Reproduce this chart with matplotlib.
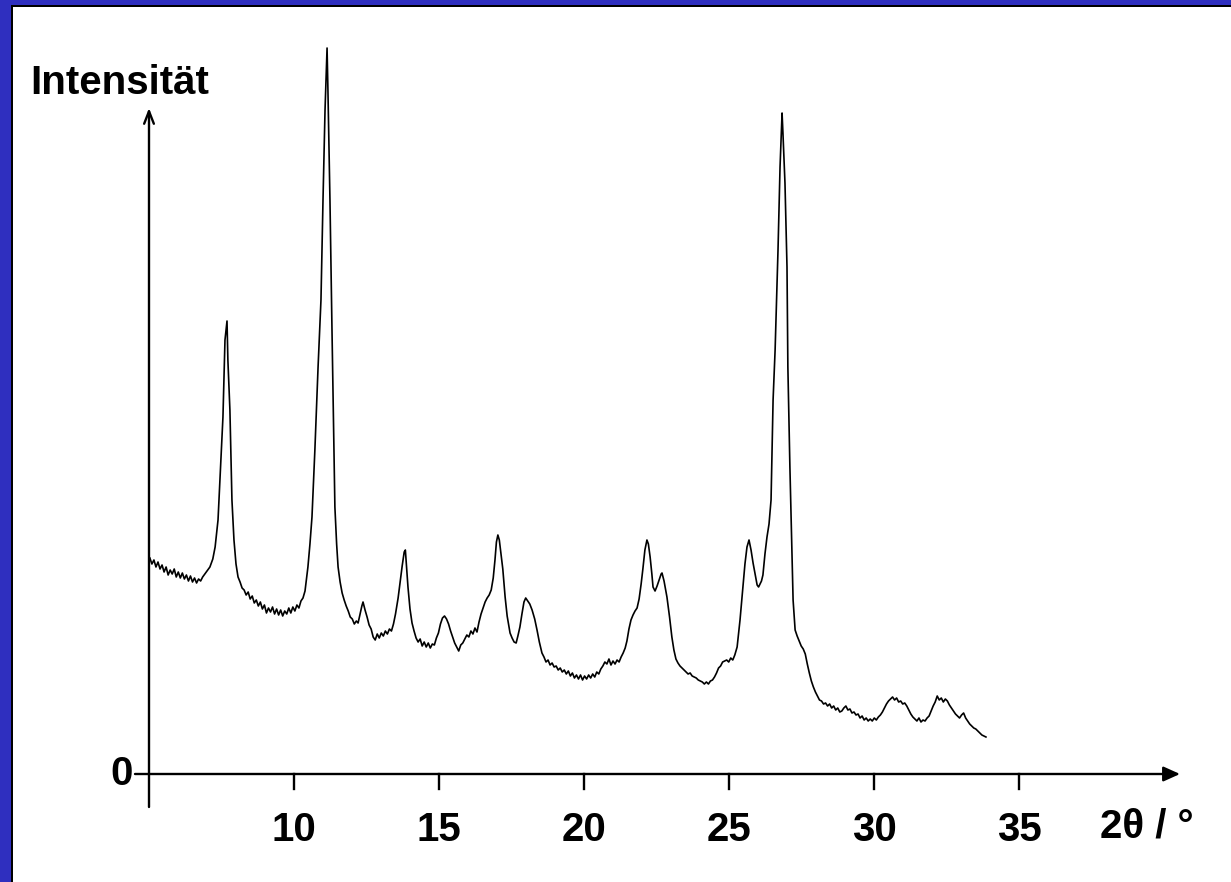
import matplotlib
matplotlib.use("Agg")
import matplotlib.pyplot as plt
from matplotlib.patches import Rectangle

# ---- XRD trace: (2theta in deg, intensity in a.u.) ----
seg_5_10 = [
    (5.03, 216), (5.10, 210), (5.17, 214), (5.24, 207), (5.31, 212), (5.38, 205),
    (5.45, 209), (5.52, 202), (5.59, 207), (5.66, 199), (5.73, 204), (5.80, 200),
    (5.87, 205), (5.94, 197), (6.01, 202), (6.08, 196), (6.15, 201), (6.22, 195),
    (6.29, 199), (6.36, 193), (6.43, 198), (6.50, 192), (6.57, 196), (6.64, 191),
    (6.71, 195), (6.78, 193), (6.85, 197), (6.95, 201), (7.10, 207), (7.20, 215),
    (7.28, 227), (7.38, 254), (7.48, 314), (7.55, 357), (7.62, 434), (7.69, 453),
    (7.72, 414), (7.79, 364), (7.86, 274), (7.93, 234), (8.00, 210), (8.07, 197),
    (8.14, 192), (8.21, 186), (8.28, 184), (8.35, 179), (8.42, 182), (8.49, 175),
    (8.56, 178), (8.63, 171), (8.70, 174), (8.77, 168), (8.84, 172), (8.91, 165),
    (8.98, 169), (9.05, 161), (9.12, 166), (9.19, 162), (9.26, 167), (9.33, 160),
    (9.40, 165), (9.47, 159), (9.54, 164), (9.61, 158), (9.68, 163), (9.75, 160),
    (9.82, 166), (9.89, 161), (9.96, 167),
]
seg_10_15 = [
    (10.03, 163), (10.10, 169), (10.17, 166), (10.24, 173), (10.31, 176), (10.38, 183),
    (10.48, 207), (10.55, 230), (10.62, 257), (10.72, 324), (10.83, 407), (10.93, 474),
    (11.00, 574), (11.07, 664), (11.14, 726), (11.17, 684), (11.24, 574), (11.31, 444),
    (11.38, 324), (11.41, 267), (11.47, 230), (11.52, 207), (11.59, 192), (11.66, 181),
    (11.73, 174), (11.80, 168), (11.87, 163), (11.94, 157), (12.01, 155), (12.08, 150),
    (12.15, 153), (12.21, 151), (12.28, 160), (12.34, 168), (12.38, 172), (12.45, 164),
    (12.52, 157), (12.59, 149), (12.66, 145), (12.73, 137), (12.80, 134), (12.87, 140),
    (12.94, 136), (13.01, 141), (13.08, 138), (13.15, 143), (13.22, 140), (13.29, 145),
    (13.36, 143), (13.43, 150), (13.50, 160), (13.59, 176), (13.66, 192), (13.73, 208),
    (13.80, 222), (13.84, 224), (13.88, 208), (13.93, 187), (14.00, 165), (14.07, 151),
    (14.14, 143), (14.21, 136), (14.28, 132), (14.35, 135), (14.42, 128), (14.49, 132),
    (14.56, 127), (14.63, 131), (14.70, 126), (14.77, 130), (14.84, 129), (14.91, 136),
    (14.98, 141),
]
seg_15_20 = [
    (15.05, 150), (15.12, 156), (15.19, 158), (15.26, 155), (15.33, 150), (15.40, 143),
    (15.47, 137), (15.54, 131), (15.61, 127), (15.68, 123), (15.75, 129), (15.82, 131),
    (15.89, 135), (15.96, 139), (16.03, 137), (16.10, 143), (16.17, 140), (16.24, 146),
    (16.31, 142), (16.38, 152), (16.45, 160), (16.52, 166), (16.59, 172), (16.66, 176),
    (16.73, 179), (16.80, 184), (16.87, 196), (16.93, 214), (16.98, 232), (17.03, 239),
    (17.08, 234), (17.13, 222), (17.20, 205), (17.28, 177), (17.35, 158), (17.45, 141),
    (17.52, 136), (17.59, 132), (17.66, 131), (17.72, 138), (17.79, 147), (17.86, 160),
    (17.93, 172), (17.99, 176), (18.06, 173), (18.13, 170), (18.21, 164), (18.30, 155),
    (18.38, 144), (18.46, 132), (18.55, 121), (18.62, 117), (18.69, 112), (18.76, 114),
    (18.83, 109), (18.90, 111), (18.97, 107), (19.04, 108), (19.11, 104), (19.18, 106),
    (19.25, 102), (19.32, 104), (19.39, 100), (19.46, 103), (19.53, 98), (19.60, 101),
    (19.67, 96), (19.74, 99), (19.81, 95), (19.88, 99), (19.95, 94),
]
seg_20_25 = [
    (20.02, 98), (20.09, 95), (20.16, 99), (20.23, 96), (20.30, 100), (20.37, 97),
    (20.44, 102), (20.51, 100), (20.58, 105), (20.65, 108), (20.72, 112), (20.79, 110),
    (20.86, 115), (20.93, 109), (21.00, 113), (21.07, 110), (21.14, 114), (21.21, 112),
    (21.28, 117), (21.35, 121), (21.42, 126), (21.48, 133), (21.55, 145), (21.62, 154),
    (21.69, 159), (21.76, 163), (21.83, 166), (21.90, 175), (21.97, 190), (22.03, 205),
    (22.10, 224), (22.17, 234), (22.22, 230), (22.28, 217), (22.34, 200), (22.38, 187),
    (22.45, 183), (22.52, 188), (22.59, 194), (22.66, 200), (22.69, 201), (22.76, 193),
    (22.86, 177), (22.95, 157), (23.03, 137), (23.10, 124), (23.17, 115), (23.24, 111),
    (23.31, 108), (23.38, 106), (23.45, 104), (23.52, 102), (23.59, 100), (23.66, 101),
    (23.73, 98), (23.80, 97), (23.87, 96), (23.94, 94), (24.01, 93), (24.08, 92),
    (24.15, 90), (24.22, 92), (24.29, 90), (24.36, 93), (24.43, 94), (24.50, 97),
    (24.57, 101), (24.64, 106), (24.71, 108), (24.78, 112), (24.85, 113), (24.92, 114),
    (24.99, 112),
]
seg_25_30 = [
    (25.06, 116), (25.13, 114), (25.20, 119), (25.28, 127), (25.33, 140), (25.38, 154),
    (25.43, 170), (25.48, 187), (25.55, 210), (25.62, 227), (25.69, 234), (25.76, 224),
    (25.83, 211), (25.90, 200), (25.97, 189), (26.02, 187), (26.07, 190), (26.12, 193),
    (26.17, 199), (26.24, 220), (26.31, 237), (26.38, 250), (26.45, 274), (26.52, 374),
    (26.59, 424), (26.69, 524), (26.76, 607), (26.83, 661), (26.86, 641), (26.93, 591),
    (27.00, 507), (27.03, 407), (27.10, 307), (27.17, 224), (27.21, 174), (27.28, 144),
    (27.35, 138), (27.42, 133), (27.49, 128), (27.56, 125), (27.63, 120), (27.70, 110),
    (27.77, 101), (27.84, 93), (27.91, 87), (27.98, 82), (28.05, 78), (28.12, 74),
    (28.19, 73), (28.26, 70), (28.33, 71), (28.40, 68), (28.47, 70), (28.54, 66),
    (28.61, 68), (28.68, 64), (28.75, 66), (28.82, 62), (28.89, 63), (28.96, 66),
    (29.03, 68), (29.10, 64), (29.17, 65), (29.24, 61), (29.31, 62), (29.38, 59),
    (29.45, 60), (29.52, 56), (29.59, 58), (29.66, 54), (29.73, 56), (29.80, 53),
    (29.87, 55), (29.94, 53),
]
seg_30_34 = [
    (30.01, 56), (30.08, 54), (30.15, 57), (30.22, 59), (30.29, 62), (30.36, 66),
    (30.43, 70), (30.50, 73), (30.57, 75), (30.64, 77), (30.71, 74), (30.78, 76),
    (30.85, 72), (30.92, 73), (30.99, 70), (31.06, 71), (31.13, 68), (31.20, 64),
    (31.27, 60), (31.34, 57), (31.41, 55), (31.48, 53), (31.55, 56), (31.62, 52),
    (31.69, 54), (31.76, 53), (31.83, 56), (31.90, 58), (31.97, 63), (32.04, 68),
    (32.11, 72), (32.18, 78), (32.25, 74), (32.32, 76), (32.39, 72), (32.46, 75),
    (32.53, 73), (32.60, 69), (32.67, 66), (32.74, 63), (32.81, 60), (32.88, 58),
    (32.95, 56), (33.02, 59), (33.09, 61), (33.16, 56), (33.23, 53), (33.30, 50),
    (33.37, 48), (33.44, 46), (33.51, 45), (33.58, 43), (33.65, 41), (33.72, 39),
    (33.79, 38), (33.86, 37),
]

x_ticks = [10, 15, 20, 25, 30, 35]
x_tick_labels = ["10", "15", "20", "25", "30", "35"]

trace = seg_5_10 + seg_10_15 + seg_15_20 + seg_20_25 + seg_25_30 + seg_30_34
two_theta = [p[0] for p in trace]
intensity = [p[1] for p in trace]

W, H = 1231, 882
fig = plt.figure(figsize=(W / 100, H / 100), dpi=100)

# ---- slide-like frame: blue border, black edge, white panel ----
blue = "#2F2FBF"
fig.patches.append(Rectangle((0, 0), 1, 1, transform=fig.transFigure,
                             facecolor=blue, edgecolor="none", zorder=-3))
fig.patches.append(Rectangle((11 / W, 0), 1, 1 - 5 / H, transform=fig.transFigure,
                             facecolor="black", edgecolor="none", zorder=-2))
fig.patches.append(Rectangle((13 / W, 0), 1, 1 - 7 / H, transform=fig.transFigure,
                             facecolor="white", edgecolor="none", zorder=-1))

# axes placed so 2theta=5 sits on the y-axis and I=0 on the x-axis
x0, x1 = 5, 5 + 1031 / 29
y0, y1 = -33, 666
ax = fig.add_axes([149 / W, (H - 807) / H, 1031 / W, 699 / H])
ax.set_xlim(x0, x1)
ax.set_ylim(y0, y1)
ax.axis("off")
ax.patch.set_visible(False)

ax.plot(two_theta, intensity, color="black", linewidth=1.2, clip_on=False)

# ---- axes with arrows ----
lw = 1.7
ax.annotate("", xy=(x1, 0), xytext=(5 - 14 / 29, 0), annotation_clip=False,
            arrowprops=dict(arrowstyle="-|>,head_length=1.0,head_width=0.45",
                            color="black", lw=lw, shrinkA=0, shrinkB=0))
ax.annotate("", xy=(5, y1), xytext=(5, y0), annotation_clip=False,
            arrowprops=dict(arrowstyle="->,head_length=0.9,head_width=0.35",
                            color="black", lw=lw, shrinkA=0, shrinkB=0))

font = dict(family=["Liberation Sans", "DejaVu Sans"], fontweight="bold", fontsize=29)

for t, lab in zip(x_ticks, x_tick_labels):
    ax.plot([t, t], [0, -15], color="black", lw=lw, clip_on=False)
    ax.text(t, -56, lab, ha="center", va="center", **font)

ax.text(5 - 16 / 29, 0, "0", ha="right", va="center", **font)
ax.text(39.4, -52, "2θ / °", ha="center", va="center", **font)
ax.text(0.9, 691, "Intensität", ha="left", va="center", **font)

fig.savefig("out.png", dpi=100)
